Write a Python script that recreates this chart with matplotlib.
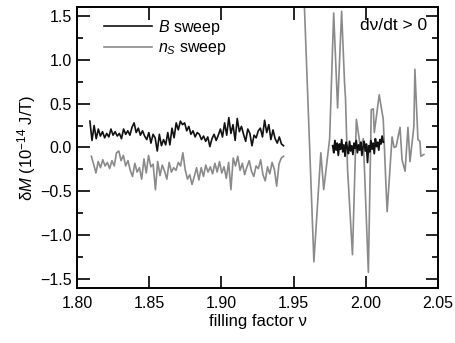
import numpy as np
import matplotlib.pyplot as plt

plt.rcParams['font.family'] = ['Liberation Sans', 'DejaVu Sans']
plt.rcParams['mathtext.fontset'] = 'custom'
plt.rcParams['mathtext.rm'] = 'Liberation Sans'
plt.rcParams['mathtext.it'] = 'Liberation Sans:italic'

# B sweep, low-nu side (evenly sampled)
b_left = [0.30, 0.08, 0.25, 0.10, 0.21, 0.13, 0.18, 0.11, 0.16, 0.12,
          0.21, 0.14, 0.18, 0.13, 0.16, 0.10, 0.21, 0.15, 0.19, 0.14,
          0.23, 0.28, 0.17, 0.22, 0.14, 0.19, 0.13, 0.09, 0.17, 0.05,
          0.15, 0.11, -0.04, 0.15, 0.02, 0.09, 0.03, 0.17, 0.03, 0.22,
          0.11, 0.28, 0.20, 0.30, 0.26, 0.28, 0.19, 0.24, 0.15, 0.19,
          0.12, 0.17, 0.15, 0.09, 0.13, 0.07, 0.12, 0.01, 0.10, 0.15,
          0.08, 0.14, 0.21, 0.12, 0.28, 0.14, 0.34, 0.16, 0.26, 0.08,
          0.33, 0.18, 0.24, 0.15, 0.07, 0.21, 0.16, 0.02, 0.14, 0.11,
          0.19, 0.22, 0.12, 0.31, 0.17, 0.26, 0.09, 0.20, 0.10, 0.05,
          0.12, 0.04, 0.02]
# n_S sweep, low-nu side (evenly sampled)
n_left = [-0.10, -0.19, -0.29, -0.16, -0.23, -0.14, -0.21, -0.17, -0.24, -0.15,
          -0.21, -0.06, -0.04, -0.15, -0.09, -0.21, -0.15, -0.26, -0.33, -0.18,
          -0.28, -0.23, -0.36, -0.13, -0.29, -0.09, -0.22, -0.19, -0.48, -0.16,
          -0.32, -0.20, -0.27, -0.36, -0.17, -0.28, -0.23, -0.26, -0.17, -0.21,
          -0.06, -0.25, -0.36, -0.31, -0.42, -0.33, -0.23, -0.37, -0.23, -0.33,
          -0.20, -0.28, -0.22, -0.30, -0.18, -0.28, -0.16, -0.29, -0.22, -0.35,
          -0.17, -0.48, -0.12, -0.21, -0.10, -0.26, -0.18, -0.31, -0.22, -0.15,
          -0.27, -0.33, -0.21, -0.24, -0.14, -0.31, -0.38, -0.22, -0.30, -0.17,
          -0.25, -0.44, -0.19, -0.12, -0.10]

# B sweep, near nu = 2
b_right = [0.02, -0.06, 0.08, -0.03, 0.05, -0.09, 0.04, -0.02, 0.09, -0.05,
           0.03, -0.10, 0.06, 0.00, -0.07, 0.07, -0.04, 0.02, -0.08, 0.05,
           -0.01, 0.08, -0.06, 0.03, -0.03, 0.06, -0.09, 0.01, 0.07, -0.04,
           0.04, -0.17, 0.02, -0.05, 0.08, -0.02, 0.05, -0.07, 0.10, 0.01,
           0.06, -0.03, 0.09, 0.04, 0.13, 0.06]

# n_S sweep, near nu = 2
n_right_x = [1.9570, 1.9640, 1.9688, 1.9708, 1.9749, 1.9777, 1.9804, 1.9832,
             1.9852, 1.9859, 1.9873, 1.9907, 1.9934, 1.9962, 1.9982, 2.0017,
             2.0037, 2.0051, 2.0058, 2.0092, 2.0120, 2.0140, 2.0147, 2.0181,
             2.0195, 2.0209, 2.0236, 2.0250, 2.0271, 2.0291, 2.0305, 2.0332,
             2.0339, 2.0360, 2.0374, 2.0380, 2.0401]
n_right_y = [1.80, -1.30, -0.06, -0.48, 0.10, 1.53, 0.45, 1.55,
             0.74, 0.55, -0.25, -1.22, 0.32, 0.00, 0.10, -1.42,
             0.43, 0.44, 0.17, 0.60, 0.32, -0.48, -0.73, 0.12,
             0.00, 0.01, 0.23, -0.14, -0.27, 0.23, -0.16, 0.24,
             0.89, 0.09, 0.07, -0.10, -0.08]

fig = plt.figure(figsize=(4.55, 3.43), dpi=100)
ax = fig.add_axes([0.169, 0.160, 0.794, 0.820])

black = '#111111'
gray = '#8a8a8a'

ax.plot(np.linspace(1.809, 1.943, len(b_left)), b_left, color=black, lw=1.2, label='$B$ sweep')
ax.plot(np.linspace(1.810, 1.943, len(n_left)), n_left, color=gray, lw=1.2, label='$n_S$ sweep')
ax.plot(n_right_x, n_right_y, color=gray, lw=1.2)
ax.plot(np.linspace(1.977, 2.012, len(b_right)), b_right, color=black, lw=1.3)

ax.set_xlim(1.80, 2.05)
ax.set_ylim(-1.6, 1.6)
ax.set_xticks([1.80, 1.85, 1.90, 1.95, 2.00, 2.05])
ax.set_yticks([-1.5, -1.0, -0.5, 0.0, 0.5, 1.0, 1.5])
ax.set_yticks(np.arange(-1.5, 1.51, 0.25), minor=True)
ax.tick_params(which='both', direction='in', top=True, right=True, labelsize=11.5, width=1.2)
ax.tick_params(which='major', length=9)
ax.tick_params(which='minor', length=4.5)
ax.tick_params(axis='x', which='major', pad=6)
for s in ax.spines.values():
    s.set_linewidth(1.4)

ax.set_xlabel('filling factor ν', fontsize=12, labelpad=2)
ax.set_ylabel('δ$M$ (10$^{-14}$ J/T)', fontsize=12, labelpad=2)
ax.text(0.97, 0.932, 'dν/dt > 0', transform=ax.transAxes, ha='right', va='center', fontsize=12.5)
ax.legend(loc='upper left', frameon=False, fontsize=11.5, handlelength=3.0,
          handletextpad=0.35, labelspacing=0.2, borderaxespad=0.3, bbox_to_anchor=(0.045, 1.0))

fig.savefig('out.png', dpi=100)
